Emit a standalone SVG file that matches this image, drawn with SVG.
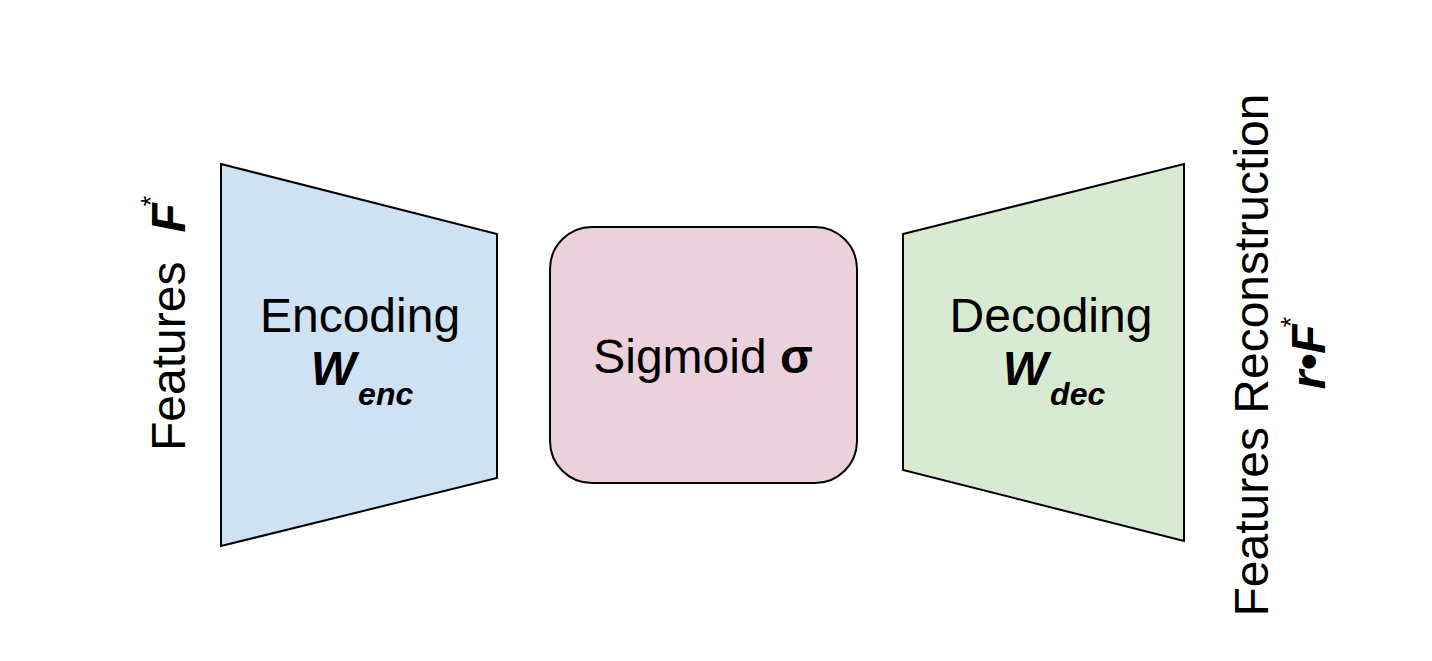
<svg xmlns="http://www.w3.org/2000/svg" width="1432" height="661" viewBox="0 0 1432 661">
<style>
.shape{stroke:#000;stroke-width:2;stroke-linejoin:miter}
.t{font-family:"Liberation Sans",Arial,sans-serif;font-size:48px;fill:#000}
.bi{font-weight:bold;font-style:italic}
.b{font-weight:bold}
.sub{font-size:32px}
.sup{font-size:27px}
</style>
<rect width="1432" height="661" fill="#fff"/>
<g id="connectors"></g>
<g id="input-label">
<text class="t" transform="translate(185,451) rotate(-90)">Features<tspan class="bi" dx="29">F</tspan><tspan class="sup" dx="-3" dy="-25">*</tspan></text>
</g>
<g id="encoder">
<polygon class="shape" points="221,164 497,234 497,478 221,546" fill="#cfe2f3"/>
<text class="t" x="360" y="332" text-anchor="middle">Encoding</text>
<text class="t" x="362" y="385" text-anchor="middle"><tspan class="bi">W</tspan><tspan class="bi sub" dx="2" dy="20">enc</tspan></text>
</g>
<g id="sigmoid">
<rect class="shape" x="550" y="227" width="307" height="256" rx="42" ry="42" fill="#ead1dc"/>
<text class="t" x="703" y="373" text-anchor="middle">Sigmoid <tspan class="b">σ</tspan></text>
</g>
<g id="decoder">
<polygon class="shape" points="903,234 1184,164 1184,541 903,470" fill="#d9ead3"/>
<text class="t" x="1051" y="332" text-anchor="middle">Decoding</text>
<text class="t" x="1054" y="385" text-anchor="middle"><tspan class="bi">W</tspan><tspan class="bi sub" dx="2" dy="20">dec</tspan></text>
</g>
<g id="output-label">
<text class="t" transform="translate(1268,355) rotate(-90)" text-anchor="middle">Features Reconstruction</text>
<text class="t" transform="translate(1325,353) rotate(-90)" text-anchor="middle"><tspan class="bi">r•F</tspan><tspan class="sup" dx="-3" dy="-25">*</tspan></text>
</g>
</svg>
